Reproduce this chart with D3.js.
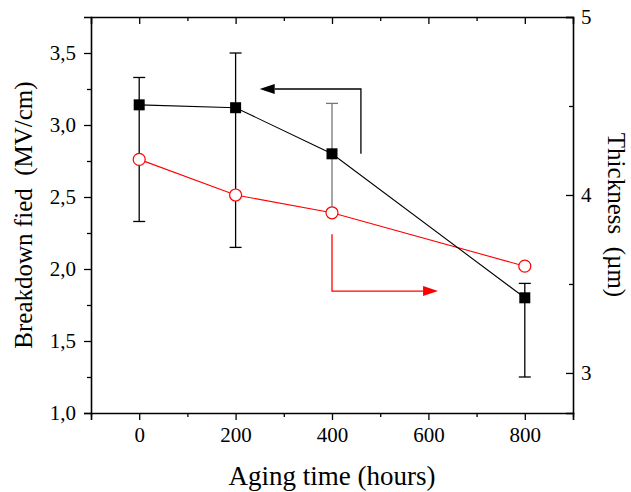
<!DOCTYPE html>
<html><head><meta charset="utf-8">
<script src="https://cdn.jsdelivr.net/npm/d3@7"></script>
<style>
html,body{margin:0;padding:0;background:#fff;}
svg{display:block;}
svg text{font-family:"Liberation Serif","DejaVu Serif","Times New Roman",Times,serif !important;}
</style></head>
<body>
<script>
const agingTimes = [0, 200, 400, 800];
const breakdownField = [3.14, 3.12, 2.80, 1.80];
const errUpper = [3.33, 3.50, 3.15, 1.90];
const errLower = [2.33, 2.15, 2.39, 1.25];
const thickness = [4.20, 4.00, 3.90, 3.60];
const xTicks = [0, 200, 400, 600, 800];
const leftTicks = [1.0, 1.5, 2.0, 2.5, 3.0, 3.5];
const rightTicks = [3, 4, 5];
// arrow annotations in data units
const blackArrow = [[460, 2.80], [460, 3.25], [250, 3.25]]; // left axis units
const redArrow = [[400, 3.78], [400, 3.46], [620, 3.46]];   // right axis units

const W = 631, H = 492;
const m = {left: 91, right: 58, top: 17, bottom: 79};
const svg = d3.select("body").append("svg").attr("width", W).attr("height", H);

const x = d3.scaleLinear().domain([-100, 900]).range([m.left, W - m.right]);
const yL = d3.scaleLinear().domain([1.0, 3.75]).range([H - m.bottom, m.top]);
const yR = d3.scaleLinear().domain([2.775, 5]).range([H - m.bottom, m.top]);

const fmt = d => d3.format(".1f")(d).replace(".", ",");

function styleAxis(g) {
  g.attr("font-family", null);
  g.select(".domain").attr("stroke", "#000").attr("stroke-width", 1.6);
  g.selectAll(".tick line").attr("stroke", "#000").attr("stroke-width", 1.3);
  g.selectAll("text").attr("font-size", 21).attr("fill", "#000");
}
function minor(g) {
  g.select(".domain").remove();
  g.selectAll("line").attr("stroke", "#000").attr("stroke-width", 1.3);
}

// bottom axis (outward)
const gB = svg.append("g").attr("transform", `translate(0,${H - m.bottom})`)
  .call(d3.axisBottom(x).tickValues(xTicks).tickSize(7).tickPadding(7).tickFormat(d3.format("d")));
styleAxis(gB);
svg.append("g").attr("transform", `translate(0,${H - m.bottom})`)
  .call(d3.axisBottom(x).tickValues([-100, 100, 300, 500, 700, 900]).tickSize(4).tickFormat(""))
  .call(minor);

// top axis (inward)
const gT = svg.append("g").attr("transform", `translate(0,${m.top})`)
  .call(d3.axisBottom(x).tickValues(xTicks).tickSize(7).tickFormat(""));
styleAxis(gT);
svg.append("g").attr("transform", `translate(0,${m.top})`)
  .call(d3.axisBottom(x).tickValues([100, 300, 500, 700]).tickSize(4).tickFormat(""))
  .call(minor);

// left axis (outward)
const gL = svg.append("g").attr("transform", `translate(${m.left},0)`)
  .call(d3.axisLeft(yL).tickValues(leftTicks).tickSize(7).tickPadding(8).tickFormat(fmt));
styleAxis(gL);
svg.append("g").attr("transform", `translate(${m.left},0)`)
  .call(d3.axisLeft(yL).tickValues([1.25, 1.75, 2.25, 2.75, 3.25]).tickSize(4).tickFormat(""))
  .call(minor);

// right axis (inward ticks, labels outside)
const gR = svg.append("g").attr("transform", `translate(${W - m.right},0)`)
  .call(d3.axisRight(yR).tickValues(rightTicks).tickSize(-7).tickPadding(8).tickFormat(d3.format("d")));
styleAxis(gR);
svg.append("g").attr("transform", `translate(${W - m.right},0)`)
  .call(d3.axisRight(yR).tickValues([3.5, 4.5]).tickSize(-4).tickFormat(""))
  .call(minor);

// Axis titles
svg.append("text").attr("x", 332).attr("y", 485).attr("text-anchor", "middle")
  .attr("font-size", 27).text("Aging time (hours)");
svg.append("text").attr("transform", `translate(32,${(m.top + H - m.bottom) / 2}) rotate(-90)`)
  .attr("text-anchor", "middle").attr("font-size", 25).attr("xml:space", "preserve")
  .text("Breakdown fied  (MV/cm)");
svg.append("text").attr("transform", `translate(608,${(m.top + H - m.bottom) / 2}) rotate(90)`)
  .attr("text-anchor", "middle").attr("font-size", 25).attr("xml:space", "preserve")
  .text("Thickness  (µm)");

// Error bars
const eb = svg.append("g");
agingTimes.forEach((t, i) => {
  const col = i === 2 ? "#777" : "#000";
  eb.append("line").attr("x1", x(t)).attr("x2", x(t)).attr("y1", yL(errUpper[i])).attr("y2", yL(errLower[i]))
    .attr("stroke", col).attr("stroke-width", 1.3);
  [errUpper[i], errLower[i]].forEach(v => {
    if (i === 2 && v === errLower[i]) return;
    eb.append("line").attr("x1", x(t) - 6).attr("x2", x(t) + 6).attr("y1", yL(v)).attr("y2", yL(v))
      .attr("stroke", col).attr("stroke-width", 1.3);
  });
});

// Red series (thickness)
const lineR = d3.line().x((d, i) => x(agingTimes[i])).y(d => yR(d));
svg.append("path").datum(thickness).attr("d", lineR).attr("fill", "none").attr("stroke", "#ff0000").attr("stroke-width", 1.1);
svg.selectAll(".circ").data(thickness).join("circle").attr("class", "circ")
  .attr("cx", (d, i) => x(agingTimes[i])).attr("cy", d => yR(d)).attr("r", 6)
  .attr("fill", "#fff").attr("stroke", "#ff0000").attr("stroke-width", 1.2);

// Black series (breakdown)
const lineL = d3.line().x((d, i) => x(agingTimes[i])).y(d => yL(d));
svg.append("path").datum(breakdownField).attr("d", lineL).attr("fill", "none").attr("stroke", "#000").attr("stroke-width", 1.1);
svg.selectAll(".sq").data(breakdownField).join("rect").attr("class", "sq")
  .attr("x", (d, i) => x(agingTimes[i]) - 5.5).attr("y", d => yL(d) - 5.5)
  .attr("width", 11).attr("height", 11).attr("fill", "#000");

// Arrows
function drawArrow(pts, ys, col) {
  const p = pts.map(d => [x(d[0]), ys(d[1])]);
  const n = p.length;
  const [ex, ey] = p[n - 1];
  const [px, py] = p[n - 2];
  const dir = Math.sign(ex - px);
  const headLen = 15, headW = 5;
  const line = p.slice(0, n - 1).concat([[ex - dir * headLen, ey]]);
  svg.append("path").attr("d", d3.line()(line)).attr("fill", "none").attr("stroke", col).attr("stroke-width", 1.3);
  svg.append("path").attr("d", `M${ex},${ey} L${ex - dir * headLen},${ey - headW} L${ex - dir * headLen},${ey + headW} Z`)
    .attr("fill", col);
}
drawArrow(blackArrow, yL, "#000");
drawArrow(redArrow, yR, "#ff0000");
</script>
</body></html>
